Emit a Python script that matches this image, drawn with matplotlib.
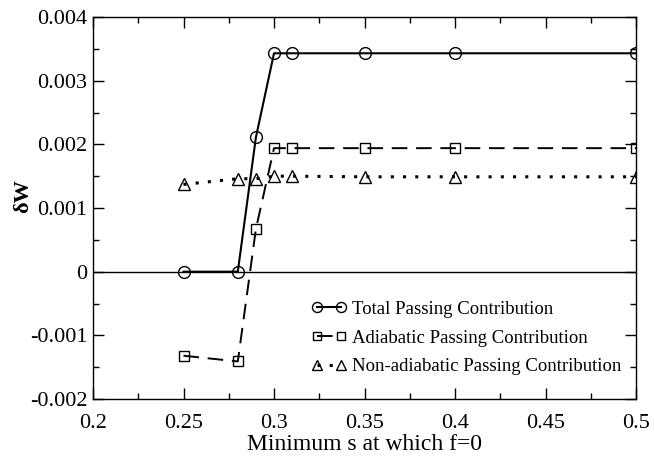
import matplotlib
matplotlib.use("Agg")
import matplotlib.pyplot as plt
from matplotlib.ticker import MultipleLocator

plt.rcParams['font.family'] = ['Liberation Serif', 'DejaVu Serif']

s_vals = [0.25, 0.28, 0.29, 0.30, 0.31, 0.35, 0.40, 0.50]
total = [0.0, 0.0, 0.00211, 0.00343, 0.00343, 0.00343, 0.00343, 0.00343]
adiabatic = [-0.00132, -0.00141, 0.00067, 0.00194, 0.00194, 0.00194, 0.00194, 0.00194]
nonadiabatic = [0.00137, 0.00146, 0.00146, 0.00150, 0.00150, 0.00149, 0.00149, 0.00149]

labels = ["Total Passing Contribution",
          "Adiabatic Passing Contribution",
          "Non-adiabatic Passing Contribution"]
xticks = [0.2, 0.25, 0.3, 0.35, 0.4, 0.45, 0.5]
xticklabels = ['0.2', '0.25', '0.3', '0.35', '0.4', '0.45', '0.5']
yticks = [-0.002, -0.001, 0, 0.001, 0.002, 0.003, 0.004]
yticklabels = ['-0.002', '-0.001', '0', '0.001', '0.002', '0.003', '0.004']

fig = plt.figure(figsize=(6.54, 4.57), dpi=100)
ax = fig.add_axes([0.1422, 0.1269, 0.8303, 0.8359])

ax.axhline(0, color='black', lw=1.0, zorder=1)

mk = dict(markerfacecolor='none', markeredgecolor='black', markeredgewidth=1.0)
ax.plot(s_vals, total, color='black', lw=1.5, ls='-', marker='o', markersize=8.5,
        label=labels[0], **mk)
ax.plot(s_vals, adiabatic, color='black', lw=1.4, ls=(0, (8, 4.5)), marker='s', markersize=7.5,
        label=labels[1], **mk)
ax.plot(s_vals, nonadiabatic, color='black', lw=2.2, ls=(0, (1, 3)), marker='^', markersize=8.5,
        label=labels[2], **mk)

ax.set_xlim(0.2, 0.5)
ax.set_ylim(-0.002, 0.004)
ax.set_xticks(xticks)
ax.set_xticklabels(xticklabels)
ax.set_yticks(yticks)
ax.set_yticklabels(yticklabels)
ax.xaxis.set_minor_locator(MultipleLocator(0.025))
ax.yaxis.set_minor_locator(MultipleLocator(0.0005))
ax.tick_params(which='both', direction='in', top=True, right=True, labelsize=16, width=1.0, color='black')
ax.tick_params(which='major', length=8)
ax.tick_params(which='minor', length=4)
ax.tick_params(axis='x', which='major', pad=10.5)
ax.tick_params(axis='y', which='major', pad=4)
for sp in ax.spines.values():
    sp.set_linewidth(1.0)

ax.set_xlabel('Minimum s at which f=0', fontsize=17, labelpad=1)
ax.set_ylabel('δW', fontsize=16, fontweight='bold')
ax.yaxis.set_label_coords(-0.11, 0.531)

ax.legend(loc='upper left', frameon=False, fontsize=13.5, numpoints=2, handlelength=1.85,
          handletextpad=0.3, bbox_to_anchor=(0.403, 0.257), borderaxespad=0, borderpad=0,
          labelspacing=0.62, markerscale=0.85)

fig.savefig('out.png', dpi=100)
